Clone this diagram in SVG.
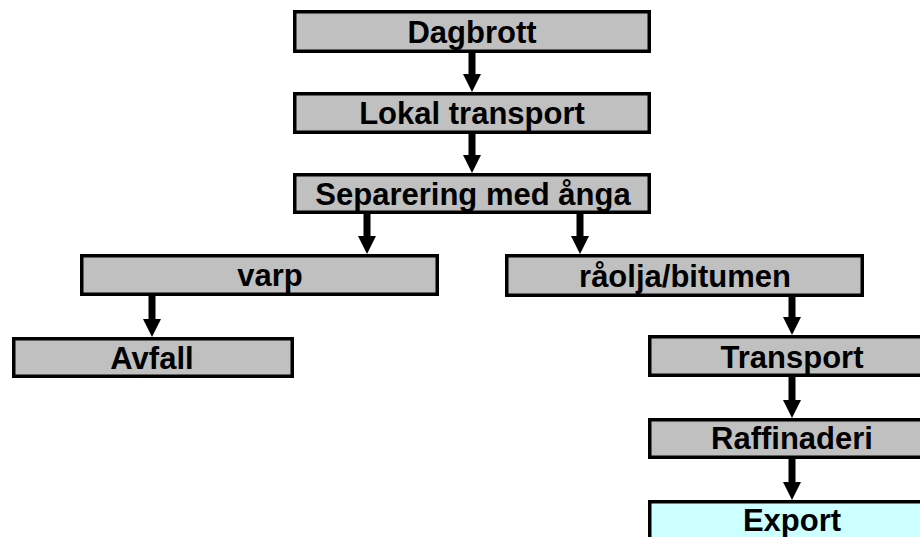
<svg xmlns="http://www.w3.org/2000/svg" width="920" height="537" viewBox="0 0 920 537">
<style>
.box{fill:#C0C0C0;stroke:#000;stroke-width:3.5}
.exp{fill:#CCFFFF;stroke:#000;stroke-width:3.5}
.lbl{font-family:"Liberation Sans",Arial,sans-serif;font-weight:bold;font-size:31px;fill:#000;text-anchor:middle}
.arr{fill:#000;stroke:none}
</style>
<rect width="920" height="537" fill="#fff"/>
<g id="connectors">
<path class="arr" d="M468.5,53 H475.5 V74 H481 L472,92 L463,74 H468.5 Z"/>
<path class="arr" d="M468.5,134 H475.5 V155 H481 L472,173 L463,155 H468.5 Z"/>
<path class="arr" d="M363.5,214 H370.5 V236 H376 L367,254 L358,236 H363.5 Z"/>
<path class="arr" d="M576.5,214 H583.5 V236 H589 L580,254 L571,236 H576.5 Z"/>
<path class="arr" d="M148.5,296 H155.5 V319 H161 L152,337 L143,319 H148.5 Z"/>
<path class="arr" d="M788.5,297 H795.5 V317 H801 L792,335 L783,317 H788.5 Z"/>
<path class="arr" d="M788.5,377 H795.5 V400 H801 L792,418 L783,400 H788.5 Z"/>
<path class="arr" d="M788.5,459 H795.5 V482 H801 L792,500 L783,482 H788.5 Z"/>
</g>
<g id="dagbrott"><rect class="box" x="294.75" y="11.75" width="354.5" height="39.5"/><text class="lbl" x="472" y="42.5">Dagbrott</text></g>
<g id="lokal"><rect class="box" x="294.75" y="93.75" width="354.5" height="38.5"/><text class="lbl" x="472" y="124">Lokal transport</text></g>
<g id="separering"><rect class="box" x="294.75" y="174.75" width="354.5" height="37.5"/><text class="lbl" x="473" y="204.5">Separering med ånga</text></g>
<g id="varp"><rect class="box" x="81.75" y="255.75" width="355.5" height="38.5"/><text class="lbl" x="270" y="286">varp</text></g>
<g id="raolja"><rect class="box" x="506.75" y="255.75" width="355.5" height="39.5"/><text class="lbl" x="685" y="286.5">råolja/bitumen</text></g>
<g id="avfall"><rect class="box" x="13.75" y="338.75" width="278.5" height="37.5"/><text class="lbl" x="152" y="368.5">Avfall</text></g>
<g id="transport"><rect class="box" x="649.75" y="336.75" width="285.5" height="38.5"/><text class="lbl" x="792" y="367.5">Transport</text></g>
<g id="raffinaderi"><rect class="box" x="649.75" y="419.75" width="285.5" height="37.5"/><text class="lbl" x="792" y="449">Raffinaderi</text></g>
<g id="export"><rect class="exp" x="649.75" y="501.75" width="285.5" height="45"/><text class="lbl" x="792" y="530.5">Export</text></g>
</svg>
